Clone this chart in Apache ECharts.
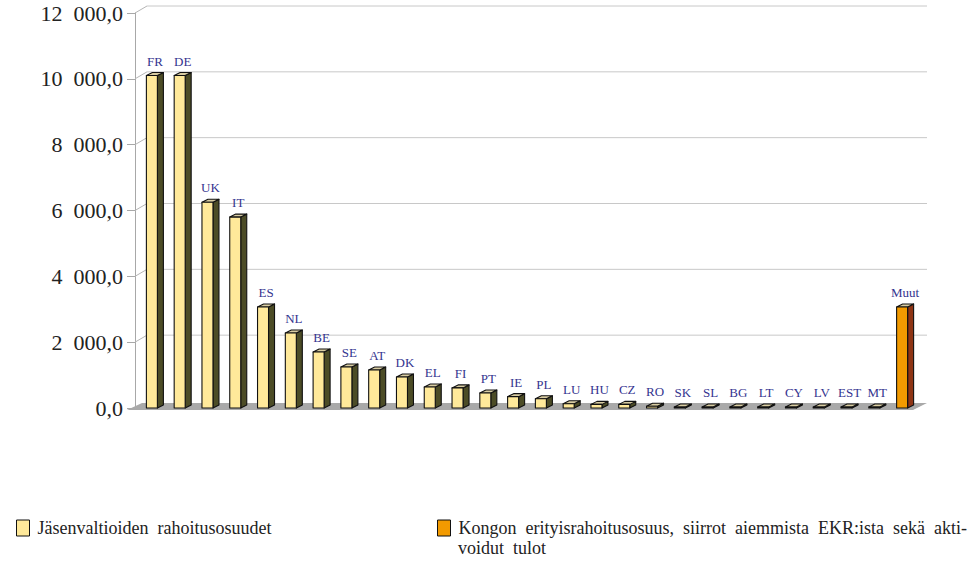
<!DOCTYPE html>
<html>
<head>
<meta charset="utf-8">
<script src="https://cdn.jsdelivr.net/npm/echarts@6/dist/echarts.min.js"></script>
<style>
html,body{margin:0;padding:0;background:#fff;}
#chart{width:977px;height:562px;}
</style>
</head>
<body>
<div id="chart"></div>
<script>
// ---- data ----
const categories = ['FR','DE','UK','IT','ES','NL','BE','SE','AT','DK','EL','FI','PT','IE','PL','LU','HU','CZ','RO','SK','SL','BG','LT','CY','LV','EST','MT','Muut'];
const memberValues = [10100,10100,6250,5800,3070,2280,1700,1245,1155,940,640,610,455,345,280,130,110,110,55,15,12,12,10,8,8,5,3];
const otherValues = [3070];
const yTicks = [0,2000,4000,6000,8000,10000,12000];
const memberName = 'Jäsenvaltioiden rahoitusosuudet';
const otherName = 'Kongon erityisrahoitusosuus, siirrot aiemmista EKR:ista sekä akti-voidut tulot';
const otherLine1 = 'Kongon  erityisrahoitusosuus,  siirrot  aiemmista  EKR:ista  sekä  akti-';
const otherLine2 = 'voidut  tulot';

const FONT = '"Liberation Serif", "DejaVu Serif", serif';
const LABEL_COLOR = '#34348f';

function fmt(v){
  const s = Math.round(v).toString().replace(/\B(?=(\d{3})+(?!\d))/g, '\u2002');
  return s + ',0';
}

function makeBarRenderer(front, side, topc){
  return function(params, api){
    const ci = api.value(0), v = api.value(1);
    const t = api.coord([ci, v]);
    const b = api.coord([ci, 0]);
    const c = t[0];
    const L = c - 5.5, R = c + 5.5, dx = 6, dy = 3;
    const T = Math.min(t[1], b[1] - 1), B = b[1];
    const stroke = {stroke:'#111', lineWidth:1.1, lineJoin:'round'};
    return {
      type:'group',
      children:[
        {type:'polygon', shape:{points:[[R,T],[R+dx,T-dy],[R+dx,B-dy],[R,B]]}, style:Object.assign({fill:side}, stroke)},
        {type:'polygon', shape:{points:[[L,T],[R,T],[R+dx,T-dy],[L+dx,T-dy]]}, style:Object.assign({fill:topc}, stroke)},
        {type:'rect', shape:{x:L, y:T, width:R-L, height:B-T}, style:Object.assign({fill:front}, stroke)},
        {type:'text', style:{text:categories[ci], x:c+3, y:T-dy-5, align:'center', verticalAlign:'bottom',
          fill:LABEL_COLOR, font:'13px ' + FONT}}
      ]
    };
  };
}

function renderBackground(params, api){
  const cs = params.coordSys;
  const children = [];
  const base = api.coord([0,0])[1];
  children.push({type:'polygon', shape:{points:[[cs.x-11, base+2],[cs.x+cs.width-3, base+2],[cs.x+cs.width+11, base-5],[cs.x+4, base-5]]},
    style:{fill:'#a9a9a9'}});
  yTicks.forEach(function(v){
    if (v === 0) return;
    const y = api.coord([0, v])[1];
    children.push({type:'line', shape:{x1:cs.x-3, y1:y, x2:cs.x+9, y2:y-7}, style:{stroke:'#b5b5b5', lineWidth:1}});
    children.push({type:'line', shape:{x1:cs.x+9, y1:y-7, x2:cs.x+cs.width+11, y2:y-7}, style:{stroke:'#c8c8c8', lineWidth:1}});
  });
  return {type:'group', children:children};
}

const chart = echarts.init(document.getElementById('chart'), null, {renderer:'svg'});
chart.setOption({
  animation:false,
  backgroundColor:'#fff',
  grid:{left:138, top:13, width:778, bottom:154, containLabel:false},
  xAxis:{type:'category', data:categories, boundaryGap:true,
    axisLine:{show:false}, axisTick:{show:false}, axisLabel:{show:false}, splitLine:{show:false}},
  yAxis:{type:'value', min:0, max:12000, interval:2000, offset:3,
    axisLine:{show:true, lineStyle:{color:'#a8a8a8', width:1}},
    axisTick:{show:true, inside:false, length:8, lineStyle:{color:'#a8a8a8'}},
    splitLine:{show:false},
    axisLabel:{formatter:fmt, fontFamily:FONT, fontSize:22, color:'#222', margin:12}},
  legend:[
    {data:[{name:memberName, itemStyle:{color:'#FFE99A', borderColor:'#111', borderWidth:1}}],
     left:11, top:514, icon:'rect', itemWidth:13, itemHeight:16, itemGap:10,
     formatter:function(){ return 'Jäsenvaltioiden  rahoitusosuudet'; },
     textStyle:{fontFamily:FONT, fontSize:18, color:'#222', padding:[0,0,0,3]}},
    {data:[{name:otherName, itemStyle:{color:'#F29A00', borderColor:'#111', borderWidth:1}}],
     left:432, top:514, icon:'rect', itemWidth:13, itemHeight:16, itemGap:10,
     formatter:function(){ return otherLine1; },
     textStyle:{fontFamily:FONT, fontSize:18, color:'#222', padding:[0,0,0,3]}}
  ],
  graphic:[
    {type:'text', left:458, top:539, style:{text:otherLine2, font:'18px ' + FONT, fill:'#222'}}
  ],
  series:[
    {type:'custom', name:'bg', silent:true, z:1, data:[[0,0]], renderItem:renderBackground},
    {type:'custom', name:memberName, z:3,
     itemStyle:{color:'#FFE99A', borderColor:'#111', borderWidth:1},
     data:memberValues.map(function(v,i){ return [i, v]; }),
     encode:{x:0, y:1},
     renderItem:makeBarRenderer('#FFE99A', '#4C4C26', '#d8cca2')},
    {type:'custom', name:otherName, z:3,
     itemStyle:{color:'#F29A00', borderColor:'#111', borderWidth:1},
     data:otherValues.map(function(v,i){ return [memberValues.length + i, v]; }),
     encode:{x:0, y:1},
     renderItem:makeBarRenderer('#F29A00', '#8E3414', '#d8cca2')}
  ]
});
</script>
</body>
</html>
